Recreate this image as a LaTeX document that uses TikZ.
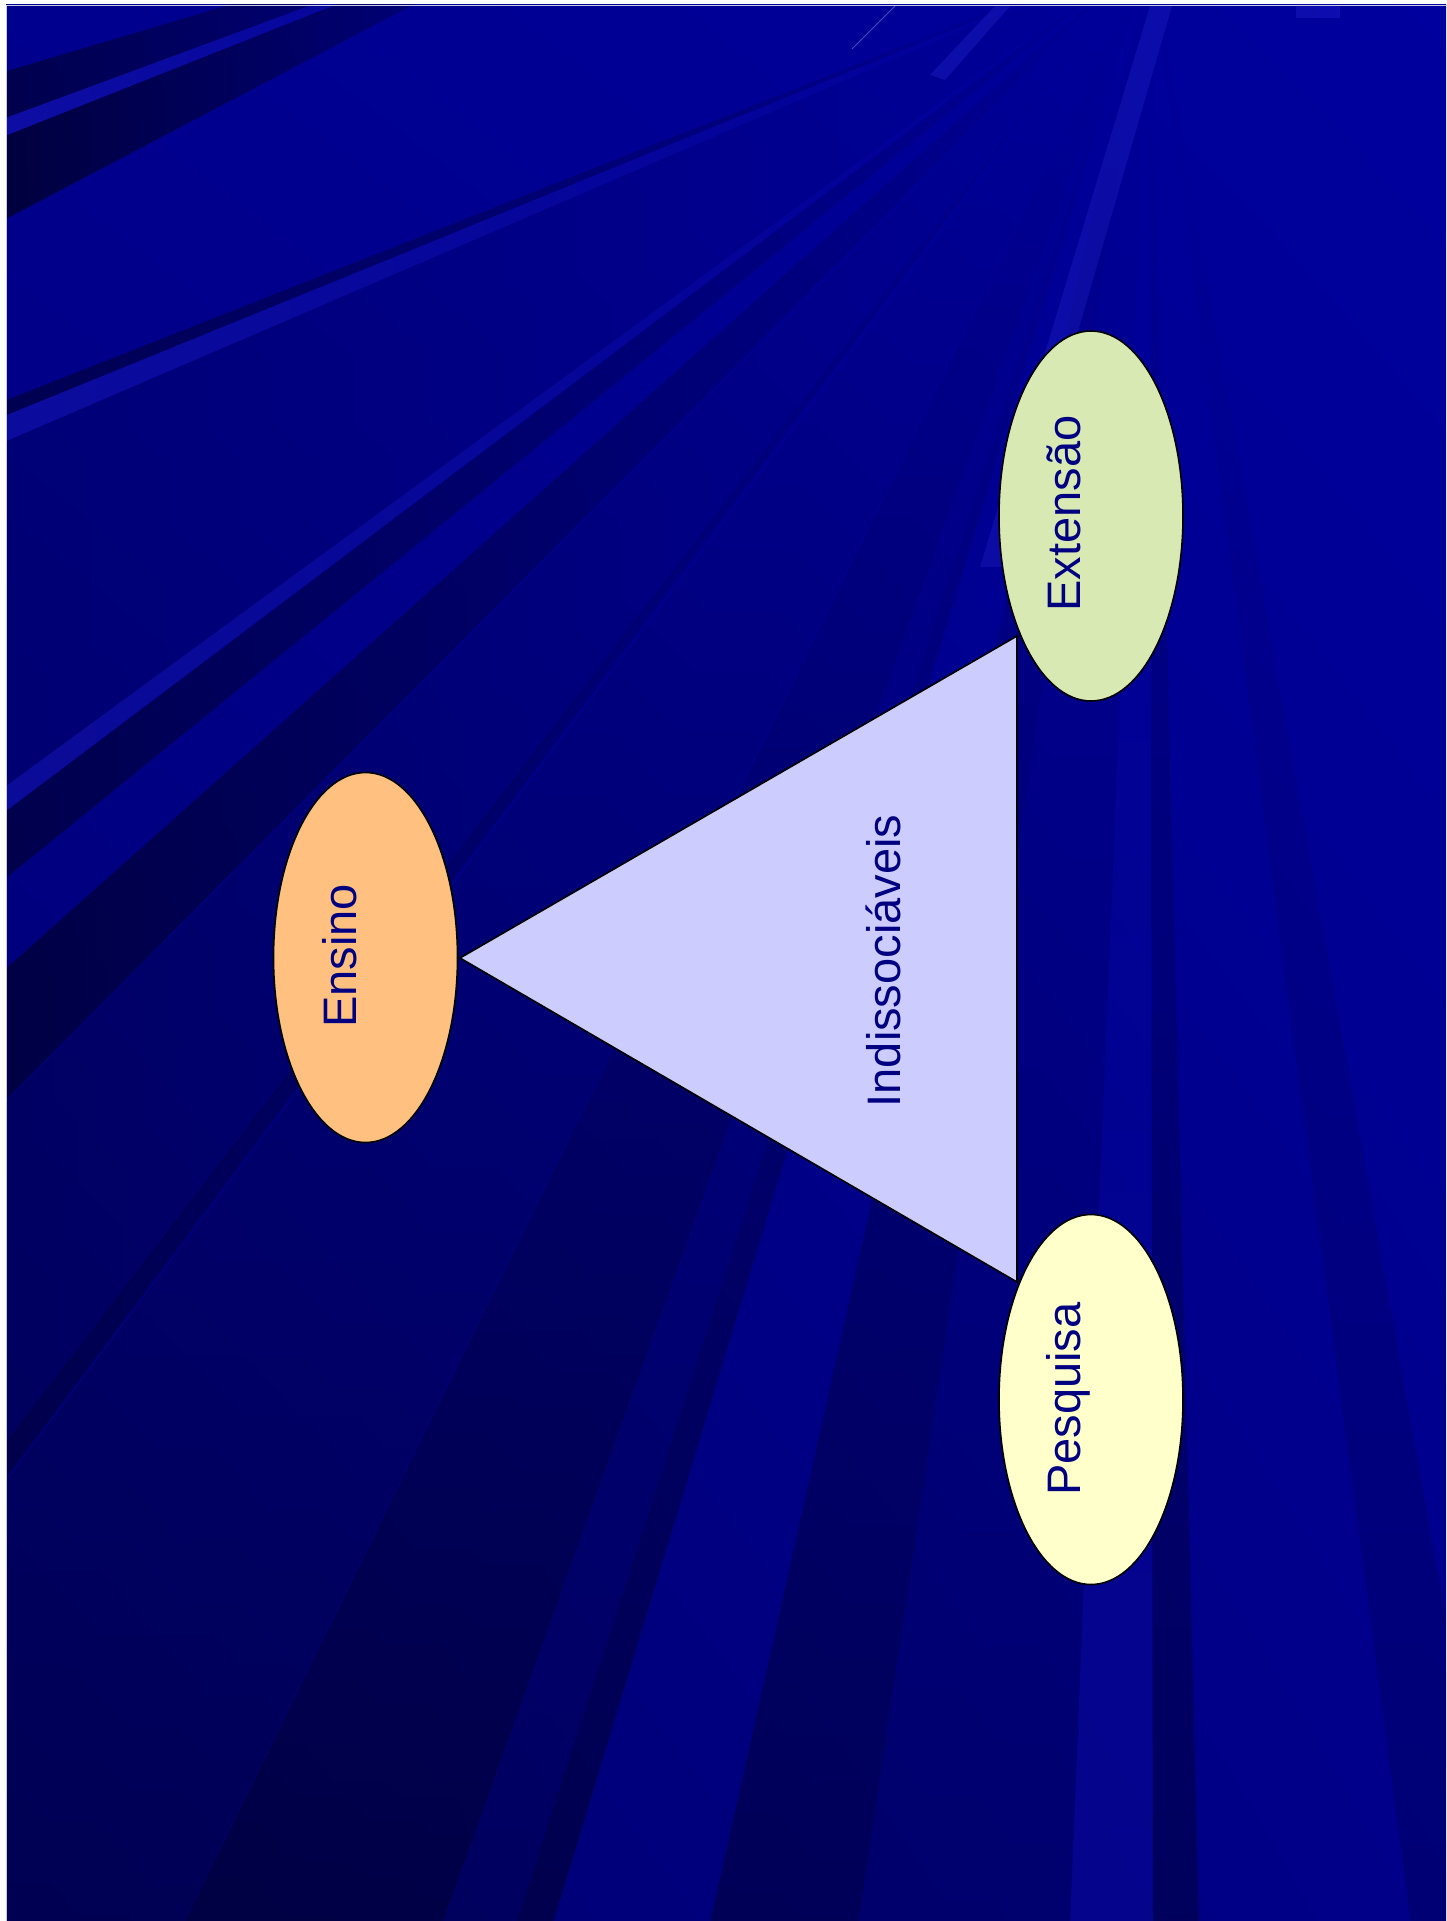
\documentclass[tikz,border=0pt]{standalone}
\usepackage{fontspec}
\setmainfont{Liberation Sans}
\usetikzlibrary{shapes.geometric,shadings,fadings}
\definecolor{navytext}{RGB}{0,0,128}
\definecolor{ensinofill}{RGB}{255,192,128}
\definecolor{extfill}{RGB}{216,233,180}
\definecolor{pesqfill}{RGB}{255,255,204}
\definecolor{trifill}{RGB}{204,204,255}
\definecolor{bgUL}{RGB}{0,0,142}
\definecolor{bgUR}{RGB}{0,0,158}
\definecolor{bgLL}{RGB}{0,0,110}
\definecolor{bgLR}{RGB}{0,0,138}
\definecolor{raylight}{RGB}{40,40,210}
\definecolor{edgeline}{RGB}{200,200,225}
\begin{document}
\begin{tikzpicture}[x=1pt,y=-1pt,
  bubble/.style={ellipse, draw=black, line width=1.6pt, minimum width=184pt, minimum height=370pt, inner sep=0pt},
  wordtext/.style={rotate=90, anchor=base, text=navytext, font=\fontsize{47}{56}\selectfont, inner sep=0pt},
  darkray/.style={fill=black, opacity=#1},
  lightray/.style={fill=raylight, opacity=#1},
  leftray/.style={path fading=east},
  bottomray/.style={path fading=north},
  edge/.style={draw=black, line width=1.6pt, line join=miter}
]
\useasboundingbox (0,0) rectangle (1446,1921);
% background
\fill[white] (0,0) rectangle (1446,1921);
\shade[upper left=bgUL, upper right=bgUR, lower left=bgLL, lower right=bgLR] (6,5) rectangle (1446,1921);
\begin{scope}
\clip (6,5) rectangle (1446,1921);
\coordinate (F) at (1150,-50);
\coordinate (G) at (650,-120);
% top-left streaks
\fill[darkray=.45, leftray] (G) -- (0,73) -- (0,120) -- cycle;
\fill[lightray=.35, leftray] (G) -- (0,120) -- (0,138) -- cycle;
\fill[darkray=.55, leftray] (G) -- (0,138) -- (0,222) -- cycle;
% left edge rays
\fill[darkray=.4, leftray] (F) -- (0,403) -- (0,418) -- cycle;
\fill[lightray=.3, leftray] (F) -- (0,418) -- (0,444) -- cycle;
\fill[darkray=.12, leftray] (F) -- (0,444) -- (0,791) -- cycle;
\fill[lightray=.3, leftray] (F) -- (0,791) -- (0,816) -- cycle;
\fill[darkray=.4, leftray] (F) -- (0,816) -- (0,883) -- cycle;
\fill[darkray=.45, leftray] (F) -- (0,974) -- (0,1106) -- cycle;
\fill[darkray=.2, leftray] (F) -- (0,1106) -- (0,1452) -- cycle;
\fill[darkray=.35, leftray] (F) -- (0,1452) -- (0,1487) -- cycle;
\fill[darkray=.25, bottomray] (F) -- (0,1487) -- (0,1921) -- (184,1921) -- cycle;
% bottom edge rays
\fill[darkray=.4, bottomray] (F) -- (184,1921) -- (443,1921) -- cycle;
\fill[darkray=.2, bottomray] (F) -- (443,1921) -- (517,1921) -- cycle;
\fill[darkray=.35, bottomray] (F) -- (517,1921) -- (553,1921) -- cycle;
\fill[darkray=.3, bottomray] (F) -- (710,1921) -- (858,1921) -- cycle;
\fill[darkray=.15, bottomray] (F) -- (858,1921) -- (1070,1921) -- cycle;
\fill[lightray=.12, bottomray] (F) -- (1070,1921) -- (1153,1921) -- cycle;
\fill[darkray=.3, bottomray] (F) -- (1153,1921) -- (1199,1921) -- cycle;
\fill[darkray=.15, bottomray] (F) -- (1411,1921) -- (1500,1921) -- cycle;
% light streaks near the top
\draw[raylight!50!white, opacity=.5, line width=1pt] (852,49) -- (895,6);
\fill[lightray=.35] (930,75) -- (995,6) -- (1010,6) -- (945,80) -- cycle;
\fill[lightray=.35] (1296,6) rectangle (1340,18);
\fill[lightray=.3] (1150,6) -- (1172,6) -- (1010,567) -- (980,567) -- cycle;
\end{scope}
\draw[edgeline, line width=1pt] (6,5.5) -- (1446,5.5);
\draw[edgeline, line width=1pt] (6.5,5) -- (6.5,1921);
% triangle
\coordinate (apex) at (460,958);
\coordinate (tr) at (1017,636);
\coordinate (br) at (1017,1282);
\filldraw[edge, fill=trifill] (apex) -- (tr) -- (br) -- cycle;
\node[wordtext] (ind) at (900,961) {Indissociáveis};
% ellipses
\node[bubble, fill=ensinofill] (ensino) at (365.5,957.5) {};
\node[bubble, fill=extfill] (extensao) at (1091,516) {};
\node[bubble, fill=pesqfill] (pesquisa) at (1091,1399.5) {};
\node[wordtext] (tEnsino) at (356,956) {Ensino};
\node[wordtext] (tExtensao) at (1080,513.5) {Extensão};
\node[wordtext] (tPesquisa) at (1080,1399) {Pesquisa};
\end{tikzpicture}
\end{document}
